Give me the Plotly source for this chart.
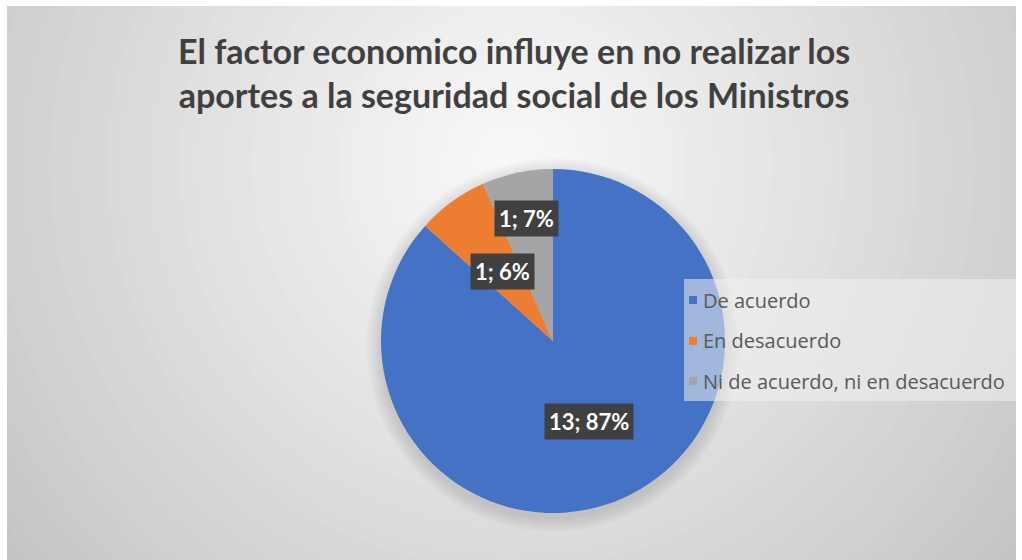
import math
import plotly.graph_objects as go

# ---- data ----
labels = ["De acuerdo", "En desacuerdo", "Ni de acuerdo, ni en desacuerdo"]
values = [13, 1, 1]
pct_text = ["87%", "6%", "7%"]
colors = ["#4472C4", "#ED7D31", "#A5A5A5"]
title_text = "El factor economico influye en no realizar los<br>aportes a la seguridad social de los Ministros"

# ---- layout constants (pixels) ----
W, H = 1022, 560
CX, CY, R = 553, 341, 172
label_radius_frac = [0.51, 0.50, 0.73]
FONT = "Lato"


def px(x):
    return x / W


def py(y):
    return 1 - y / H


fig = go.Figure()
fig.add_trace(go.Pie(
    labels=labels, values=values, sort=False, direction="clockwise", rotation=0,
    marker=dict(colors=colors, line=dict(width=0)),
    textinfo="none", hoverinfo="label+value+percent", showlegend=False,
    domain=dict(x=[px(CX - R), px(CX + R)], y=[py(CY + R), py(CY - R)]),
))

shapes = []
# radial gradient background
gx, gy = 512, 165
c_in, c_out, rmax = 249, 196, 650
N = 45
for i in range(N):
    r = rmax * (1 - i / N)
    t = r / rmax
    c = round(c_in + (c_out - c_in) * t ** 1.1)
    col = f"rgb({c},{c},{c})"
    shapes.append(dict(type="circle", xref="paper", yref="paper", layer="below",
                       x0=px(gx - r), x1=px(gx + r), y0=py(gy + r), y1=py(gy - r),
                       fillcolor=col, line=dict(width=0)))
# soft pie shadow
for k in range(6):
    rr = R + 2 + k * 2.5
    shapes.append(dict(type="circle", xref="paper", yref="paper", layer="below",
                       x0=px(CX - rr), x1=px(CX + rr), y0=py(CY + 4 + rr), y1=py(CY + 4 - rr),
                       fillcolor="rgba(0,0,0,0.018)", line=dict(width=0)))
# white outer borders
for (x0, y0, x1, y1) in [(0, 0, W, 6), (0, 0, 7, H), (1016, 0, W, H)]:
    shapes.append(dict(type="rect", xref="paper", yref="paper", layer="below",
                       x0=px(x0), x1=px(x1), y0=py(y1), y1=py(y0),
                       fillcolor="white", line=dict(width=0)))
# legend box (overlaying pie)
LX0, LY0, LX1, LY1 = 684, 279, 1016, 401
shapes.append(dict(type="rect", xref="paper", yref="paper", layer="above",
                   x0=px(LX0), x1=px(LX1), y0=py(LY1), y1=py(LY0),
                   fillcolor="rgba(240,240,240,0.55)", line=dict(width=0)))

annotations = []
# title
annotations.append(dict(text="<b>" + title_text + "</b>", xref="paper", yref="paper",
                        x=px(514), y=py(73), xanchor="center", yanchor="middle",
                        showarrow=False, font=dict(family=FONT, size=34, color="#404040")))

# legend entries
item_y = [300, 341, 381]
for lab, col, yy in zip(labels, colors, item_y):
    shapes.append(dict(type="rect", xref="paper", yref="paper", layer="above",
                       x0=px(689), x1=px(697), y0=py(yy + 4), y1=py(yy - 4),
                       fillcolor=col, line=dict(width=0)))
    annotations.append(dict(text=lab, xref="paper", yref="paper", x=px(701), y=py(yy),
                            xanchor="left", yanchor="middle", showarrow=False,
                            font=dict(family="Open Sans", size=20, color="#595959")))

# data labels placed from slice mid-angles
total = sum(values)
cum = 0
for v, p, f in zip(values, pct_text, label_radius_frac):
    mid = (cum + v / 2) / total * 2 * math.pi
    cum += v
    lx = CX + f * R * math.sin(mid)
    ly = CY - f * R * math.cos(mid)
    annotations.append(dict(text=f"<b>{v}; {p}</b>", xref="paper", yref="paper",
                            x=px(lx), y=py(ly), xanchor="center", yanchor="middle",
                            showarrow=False, bgcolor="#404040", borderpad=4,
                            font=dict(family=FONT, size=22, color="white")))

fig.update_layout(
    width=W, height=H, margin=dict(l=0, r=0, t=0, b=0),
    paper_bgcolor="white", plot_bgcolor="white",
    shapes=shapes, annotations=annotations, showlegend=False,
)
fig.write_html("out.html", config={"displayModeBar": False},
               post_script="document.body.style.margin='0';document.body.style.overflow='hidden';")
